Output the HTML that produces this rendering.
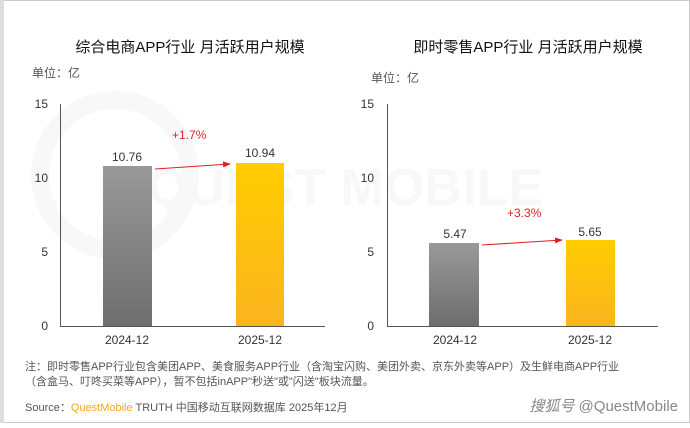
<!DOCTYPE html><html><head><meta charset="utf-8"><style>
body{margin:0;width:690px;height:423px;background:#fff;overflow:hidden;font-family:"Liberation Sans","Noto Sans CJK SC",sans-serif}
</style></head><body>
<svg width="690" height="423" xmlns="http://www.w3.org/2000/svg" font-family="Liberation Sans, Noto Sans CJK SC, sans-serif">
<defs>
<linearGradient id="g" x1="0" y1="0" x2="0" y2="1"><stop offset="0" stop-color="#999"/><stop offset="1" stop-color="#6e6e6e"/></linearGradient>
<linearGradient id="y" x1="0" y1="0" x2="0" y2="1"><stop offset="0" stop-color="#ffcc00"/><stop offset="1" stop-color="#fbb51f"/></linearGradient>
<marker id="a" markerWidth="8" markerHeight="8" refX="7" refY="4" orient="auto" markerUnits="userSpaceOnUse"><path d="M0,1 L8,4 L0,7z" fill="#e02020"/></marker>
</defs>
<rect x="0.5" y="0.5" width="689" height="422" fill="#fff" stroke="#ccc"/>
<rect x="0" y="0" width="4" height="423" fill="#ddd"/>
<text x="345" y="205" font-size="52" fill="#f8f8f8" text-anchor="middle" font-weight="bold">QUEST MOBILE</text>
<circle cx="115" cy="175" r="75" fill="none" stroke="#f8f8f8" stroke-width="18"/>
<g font-size="15" fill="#111" text-anchor="middle"><text x="190" y="52">综合电商APP行业  月活跃用户规模</text><text x="528" y="52">即时零售APP行业  月活跃用户规模</text></g>
<g font-size="12" fill="#555"><text x="32" y="77">单位：亿</text><text x="371" y="82">单位：亿</text></g>
<g stroke="#555" stroke-width="1" fill="none"><path d="M60.5 104V326.5H325"/><path d="M387.5 104V326.5H658"/></g>
<g font-size="12" fill="#333" text-anchor="end">
<text x="48" y="108">15</text><text x="48" y="182">10</text><text x="48" y="256">5</text><text x="48" y="330">0</text>
<text x="374" y="108">15</text><text x="374" y="182">10</text><text x="374" y="256">5</text><text x="374" y="330">0</text></g>
<rect x="103" y="166" width="49" height="160" fill="url(#g)"/>
<rect x="236" y="163" width="48" height="163" fill="url(#y)"/>
<rect x="429" y="243" width="50" height="83" fill="url(#g)"/>
<rect x="566" y="240" width="49" height="86" fill="url(#y)"/>
<g font-size="12" fill="#333" text-anchor="middle">
<text x="127" y="161">10.76</text><text x="260" y="157">10.94</text>
<text x="455" y="238">5.47</text><text x="590" y="236">5.65</text>
<text x="127" y="344">2024-12</text><text x="260" y="344">2025-12</text>
<text x="455" y="344">2024-12</text><text x="590" y="344">2025-12</text></g>
<g stroke="#e02020" stroke-width="1"><line x1="155" y1="169" x2="230" y2="164" marker-end="url(#a)"/><line x1="482" y1="245" x2="562" y2="240" marker-end="url(#a)"/></g>
<g font-size="12" fill="#e02020"><text x="172" y="139">+1.7%</text><text x="507" y="217">+3.3%</text></g>
<g font-size="11" fill="#555"><text x="25" y="370">注：即时零售APP行业包含美团APP、美食服务APP行业（含淘宝闪购、美团外卖、京东外卖等APP）及生鲜电商APP行业</text>
<text x="25" y="385">（含盒马、叮咚买菜等APP），暂不包括inAPP"秒送"或"闪送"板块流量。</text>
<text x="25" y="411">Source：<tspan fill="#f5a623">QuestMobile</tspan> TRUTH 中国移动互联网数据库 2025年12月</text></g>
<text x="678" y="411" font-size="15" fill="#888" text-anchor="end"><tspan font-style="italic">搜狐号</tspan> @QuestMobile</text>
</svg></body></html>
